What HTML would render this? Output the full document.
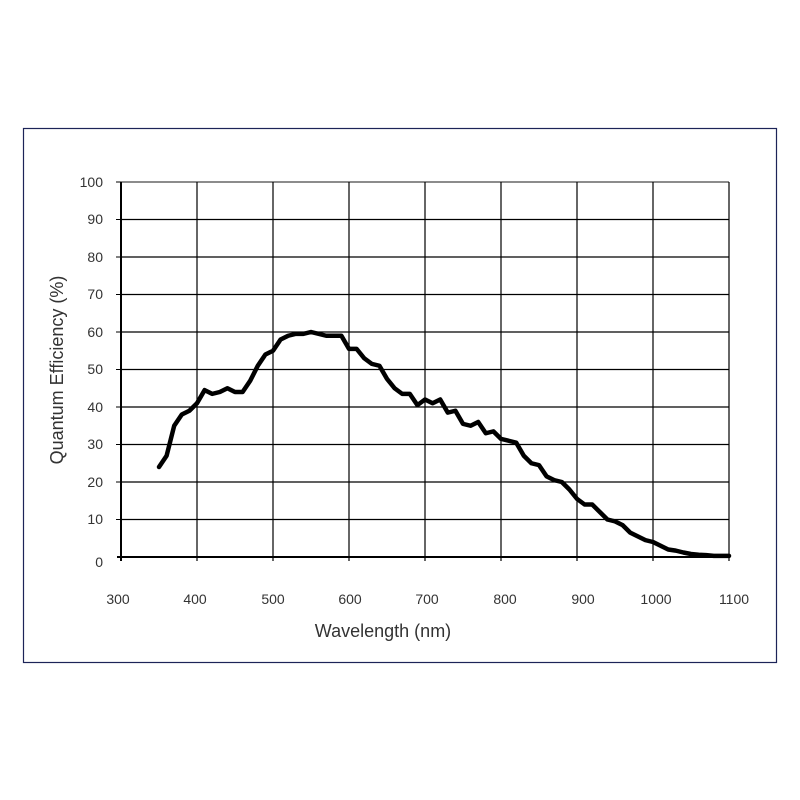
<!DOCTYPE html>
<html><head><meta charset="utf-8"><style>
html,body{margin:0;padding:0;background:#fff;}
svg{display:block;font-family:"Liberation Sans",Arial,sans-serif;}
</style></head><body>
<svg width="800" height="800" viewBox="0 0 800 800">
<rect x="23.5" y="128.5" width="753" height="534" fill="#fff" stroke="#1c2458" stroke-width="1.2"/>
<g stroke="#000" stroke-width="1.2">
<line x1="121" y1="519.5" x2="729" y2="519.5"/>
<line x1="121" y1="482" x2="729" y2="482"/>
<line x1="121" y1="444.5" x2="729" y2="444.5"/>
<line x1="121" y1="407" x2="729" y2="407"/>
<line x1="121" y1="369.5" x2="729" y2="369.5"/>
<line x1="121" y1="332" x2="729" y2="332"/>
<line x1="121" y1="294.5" x2="729" y2="294.5"/>
<line x1="121" y1="257" x2="729" y2="257"/>
<line x1="121" y1="219.5" x2="729" y2="219.5"/>
<line x1="121" y1="182" x2="729" y2="182" stroke="#666" stroke-width="1.5"/>
<line x1="197" y1="182" x2="197" y2="561"/>
<line x1="273" y1="182" x2="273" y2="561"/>
<line x1="349" y1="182" x2="349" y2="561"/>
<line x1="425" y1="182" x2="425" y2="561"/>
<line x1="501" y1="182" x2="501" y2="561"/>
<line x1="577" y1="182" x2="577" y2="561"/>
<line x1="653" y1="182" x2="653" y2="561"/>
<line x1="729" y1="182" x2="729" y2="561"/>
<line x1="121" y1="182" x2="121" y2="561" stroke-width="2"/>
<line x1="117" y1="557" x2="729" y2="557" stroke-width="2"/>
<g stroke-width="1">
<line x1="116" y1="519.5" x2="121" y2="519.5"/><line x1="116" y1="482" x2="121" y2="482"/><line x1="116" y1="444.5" x2="121" y2="444.5"/><line x1="116" y1="407" x2="121" y2="407"/><line x1="116" y1="369.5" x2="121" y2="369.5"/><line x1="116" y1="332" x2="121" y2="332"/><line x1="116" y1="294.5" x2="121" y2="294.5"/><line x1="116" y1="257" x2="121" y2="257"/><line x1="116" y1="219.5" x2="121" y2="219.5"/><line x1="116" y1="182" x2="121" y2="182"/>
</g>
</g>
<g fill="#333" font-size="14" text-anchor="end">
<text x="103" y="187">100</text><text x="103" y="224">90</text><text x="103" y="262">80</text><text x="103" y="299">70</text><text x="103" y="337">60</text><text x="103" y="374">50</text><text x="103" y="412">40</text><text x="103" y="449">30</text><text x="103" y="487">20</text><text x="103" y="524">10</text><text x="103" y="567">0</text>
</g>
<g fill="#333" font-size="14" text-anchor="middle">
<text x="118" y="604">300</text><text x="195" y="604">400</text><text x="273" y="604">500</text><text x="350" y="604">600</text><text x="427" y="604">700</text><text x="505" y="604">800</text><text x="583" y="604">900</text><text x="656" y="604">1000</text><text x="734" y="604">1100</text>
</g>
<text x="383" y="637" font-size="18" fill="#333" text-anchor="middle">Wavelength (nm)</text>
<text transform="translate(63,370) rotate(-90)" font-size="18" fill="#333" text-anchor="middle">Quantum Efficiency (%)</text>
<g transform="translate(121,557) scale(0.76,-3.75) translate(-300,0)">
<polyline fill="none" stroke="#000" stroke-width="4.5" stroke-linejoin="round" stroke-linecap="round" vector-effect="non-scaling-stroke" points="350,24 360,27 370,35 380,38 390,39 400,41 410,44.5 420,43.5 430,44 440,45 450,44 460,44 470,47 480,51 490,54 500,55 510,58 520,59 530,59.5 540,59.5 550,60 560,59.5 570,59 580,59 590,59 600,55.5 610,55.5 620,53 630,51.5 640,51 650,47.5 660,45 670,43.5 680,43.5 690,40.5 700,42 710,41 720,42 730,38.5 740,39 750,35.5 760,35 770,36 780,33 790,33.5 800,31.5 810,31 820,30.5 830,27 840,25 850,24.5 860,21.5 870,20.5 880,20 890,18 900,15.5 910,14 920,14 930,12 940,10 950,9.5 960,8.5 970,6.5 980,5.5 990,4.5 1000,4 1010,3 1020,2 1030,1.7 1040,1.2 1050,0.8 1060,0.6 1070,0.5 1080,0.3 1090,0.3 1100,0.3"/>
</g>
</svg>
</body></html>
